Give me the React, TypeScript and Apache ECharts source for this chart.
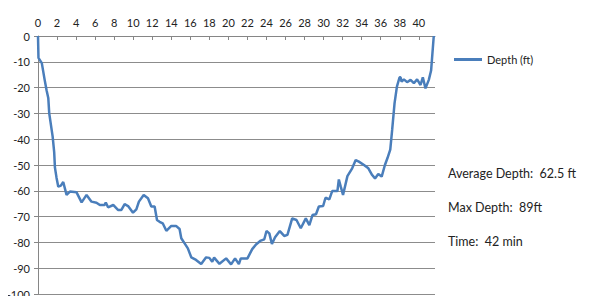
import React, { useEffect, useRef } from "react";
import * as echarts from "echarts";

const times = [
  0, 0.05, 0.4, 0.7, 0.9, 1.08, 1.18, 1.54, 1.7, 1.78, 1.95, 2.13, 2.4, 2.65, 3.0, 3.35, 4.05, 4.58, 5.1, 5.62,
  6.14, 6.5, 7.0, 7.12, 7.36, 7.9, 8.4, 8.76, 9.1, 9.46, 9.98, 10.33, 10.6, 11.1, 11.55, 11.9, 12.25, 12.5, 12.77,
  13.1, 13.48, 14.0, 14.5, 14.87, 15.05, 15.4, 15.74, 16.1, 16.6, 17.14, 17.66, 18.0, 18.3, 18.5, 19.06, 19.76,
  20.28, 20.7, 21.1, 21.3, 22.0, 22.5, 22.9, 23.4, 23.77, 24.0, 24.3, 24.57, 24.9, 25.4, 25.86, 26.2, 26.7, 27.15,
  27.6, 28.13, 28.5, 28.83, 29.2, 29.5, 29.95, 30.2, 30.6, 30.9, 31.45, 31.6, 31.8, 32.04, 32.5, 33.0, 33.37, 33.7,
  34.24, 34.7, 35.1, 35.4, 35.74, 36.1, 36.44, 36.7, 37.0, 37.2, 37.45, 37.7, 37.98, 38.08, 38.19, 38.43, 38.77,
  39.13, 39.48, 39.82, 40.18, 40.42, 40.7, 41.05, 41.29, 41.57,
];
const depths = [
  0, -8.5, -10.5, -17, -21, -24, -30, -39, -45, -51, -55, -58.4, -58, -56.6, -61.6, -60.3, -60.6, -64.5, -61.6, -64.2,
  -64.6, -65.5, -65.5, -64.5, -66.4, -65.5, -67.4, -67.4, -65.2, -65.9, -68.5, -67.2, -64.2, -61.6, -62.9, -66.1, -66.1,
  -71.3, -72, -72.6, -75.5, -73.6, -73.6, -74.8, -78.4, -80.4, -82.3, -85.8, -86.8, -88.4, -85.8, -86, -87.5, -85.9,
  -88.3, -86.2, -88.5, -86.2, -88.4, -86.2, -86.2, -82.6, -80.8, -79.3, -78.8, -75.6, -76.5, -80.6, -78, -75.6,
  -77.5, -77.1, -70.7, -71.3, -74.5, -70.7, -73.3, -69.4, -69.1, -66.1, -65.9, -62.7, -63.3, -60.1, -60.1, -55.6,
  -58.4, -61.6, -54.3, -51.3, -48.1, -48.7, -50, -51.3, -53.9, -55.2, -53.5, -54.5, -50, -47.4, -44, -36.4, -26.1,
  -19.6, -16, -16, -17.7, -16.8, -17.9, -17, -18.3, -16.8, -19, -16, -20.3, -17, -13.4, 0,
];
const seriesName = "Depth (ft)";
const notes = ["Average Depth:  62.5 ft", "Max Depth:  89ft", "Time:  42 min"];

export default function App() {
  const ref = useRef<HTMLDivElement>(null);
  useEffect(() => {
    if (!ref.current) return;
    const chart = echarts.init(ref.current, null, { renderer: "svg" });
    const font = "Lato, 'Open Sans', sans-serif";
    chart.setOption({
      animation: false,
      backgroundColor: "#ffffff",
      textStyle: { fontFamily: font },
      grid: { left: 38, top: 36, right: 165, bottom: 10, containLabel: false },
      legend: {
        data: [{ name: seriesName, icon: "rect" }],
        left: 449,
        top: 49,
        itemWidth: 28,
        itemHeight: 3,
        textStyle: { fontSize: 11, color: "#222", fontFamily: font },
      },
      xAxis: {
        type: "value",
        position: "top",
        min: 0,
        max: 41.7,
        interval: 2,
        axisLine: { show: true, lineStyle: { color: "#868686", width: 1 } },
        axisTick: { show: true, inside: true, length: 4, lineStyle: { color: "#868686" } },
        axisLabel: { showMaxLabel: false, fontSize: 11, color: "#222", margin: 8, fontFamily: font },
        splitLine: { show: false },
      },
      yAxis: {
        type: "value",
        min: -100,
        max: 0,
        interval: 10,
        axisLine: { show: true, lineStyle: { color: "#868686", width: 1 } },
        axisTick: { show: true, length: 4, lineStyle: { color: "#868686" } },
        axisLabel: { fontSize: 11, color: "#222", margin: 8, fontFamily: font },
        splitLine: { show: true, lineStyle: { color: "#8c8c8c", width: 1 } },
      },
      series: [
        {
          name: seriesName,
          type: "line",
          symbol: "none",
          data: times.map((t, i) => [t, depths[i]]),
          lineStyle: { color: "#4a7ebb", width: 2.5 },
          itemStyle: { color: "#4a7ebb" },
        },
      ],
      graphic: notes.map((s, i) => ({
        type: "text",
        left: 448,
        top: 167 + i * 34,
        style: { text: s, fontSize: 12.5, fill: "#222", fontFamily: font },
      })),
    });
    return () => chart.dispose();
  }, []);
  return <div ref={ref} style={{ width: 600, height: 304, margin: -8 }} />;
}
